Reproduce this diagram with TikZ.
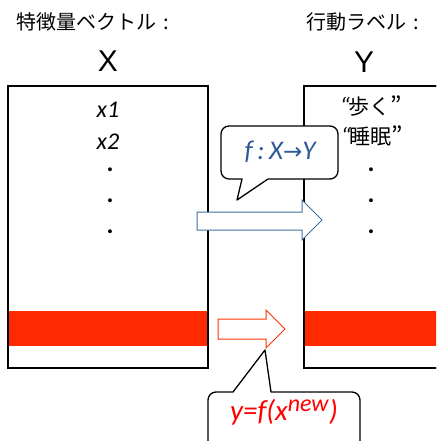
\documentclass[tikz,border=0pt]{standalone}
\usepackage{fontspec}
\setmainfont{Carlito}
\newfontfamily\jp{Noto Sans CJK JP}
\newfontfamily\arial{Liberation Sans}
\newfontfamily\arr{DejaVu Sans}
\definecolor{bandred}{HTML}{FF2A00}
\definecolor{arrred}{HTML}{FF3300}
\definecolor{arrblue}{HTML}{41719C}
\definecolor{txtblue}{HTML}{2F5A98}
\tikzset{
  head/.style={font=\jp\fontsize{20}{24}\selectfont, anchor=west, inner sep=0pt},
  var/.style={font=\arial\fontsize{30}{34}\selectfont, inner sep=0pt},
  item/.style={font=\itshape\fontsize{24}{28}\selectfont, inner sep=0pt},
  dotx/.style={font=\bfseries\fontsize{26}{30}\selectfont, inner sep=0pt, anchor=base},
  box/.style={draw=black, line width=1.3pt},
  band/.style={fill=bandred},
  callout/.style={draw=black, line width=1.3pt, fill=white, line join=round},
}
\begin{document}
\begin{tikzpicture}[x=1pt,y=-1pt]
\useasboundingbox (0,0) rectangle (436,441);
\clip (0,0) rectangle (436,441);
% headings
\node[head] (hx) at (16,22) {特徴量ベクトル\hspace{7pt}:};
\node[head] (hy) at (306,22) {行動ラベル\hspace{7pt}:};
\node[var] (X) at (108,61) {X};
\node[var] (Y) at (364,62) {Y};
% boxes
\draw[box, fill=white] (8,86) rectangle (208,368);
\draw[box, fill=white] (304,86) rectangle (450,368);
\fill[band] (8,311) rectangle (208,346);
\fill[band] (304,311) rectangle (450,346);
\draw[box] (8,86) rectangle (208,368);
\draw[box] (304,86) -- (450,86);
\draw[box] (304,86) -- (304,368) -- (450,368);
% left items
\node[item] (x1) at (108,110) {x1};
\node[item] (x2) at (108,142) {x2};
\node[dotx] (ld1) at (110,171) {.};
\node[dotx] (ld2) at (110,202) {.};
\node[dotx] (ld3) at (110,233) {.};
% right items
\node[inner sep=0pt] (walk) at (371,106) {\itshape\fontsize{24}{28}\selectfont “\kern-1pt\jp\fontsize{21}{24}\selectfont 歩く\itshape\fontsize{24}{28}\selectfont ”};
\node[inner sep=0pt] (sleep) at (372,136) {\itshape\fontsize{24}{28}\selectfont “\kern-1pt\jp\fontsize{21}{24}\selectfont 睡眠\itshape\fontsize{24}{28}\selectfont ”};
\node[dotx] (rd1) at (371,171) {.};
\node[dotx] (rd2) at (371,202) {.};
\node[dotx] (rd3) at (371,233) {.};
% blue block arrow
\draw[draw=arrblue, fill=white, line width=1pt, line join=miter]
  (197,212) -- (302,212) -- (302,200) -- (322,220) -- (302,240) -- (302,230) -- (197,230) -- cycle;
% red block arrow
\draw[draw=arrred, fill=white, line width=1pt, line join=miter]
  (218,319) -- (266,319) -- (266,310) -- (285,329) -- (266,348) -- (266,339) -- (218,339) -- cycle;
% callout 1
\draw[callout] (237,200) -- (242,179) [rounded corners=8pt] -- (221,179) -- (221,126) -- (338,126) -- (338,179) [sharp corners] -- (268,179) -- cycle;
\node[inner sep=0pt, text=txtblue, font=\itshape\fontsize{27}{30}\selectfont] (f) at (280,152) {f\,:\,X{\arr\upshape\fontsize{23}{26}\selectfont →}Y};
% callout 2
\draw[callout] (265,350) -- (271,392) [rounded corners=8pt] -- (360,392) -- (360,460) -- (208,460) -- (208,392) [sharp corners] -- (233,392) -- cycle;
\node[inner sep=0pt, text=red, font=\itshape\fontsize{29}{32}\selectfont] (y) at (284,412) {y=f(x\textsuperscript{\fontsize{24}{26}\selectfont new})};
\end{tikzpicture}
\end{document}
